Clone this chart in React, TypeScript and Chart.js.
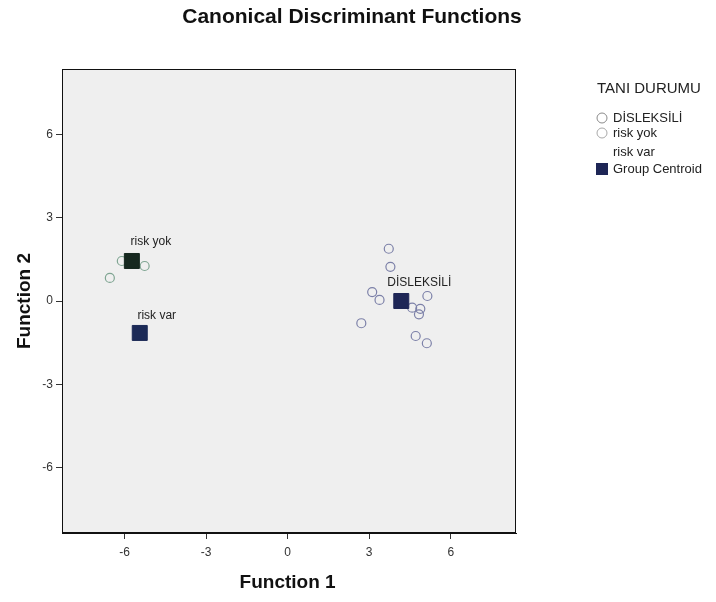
import React, { useEffect, useRef } from "react";
import { Chart, registerables } from "chart.js";

Chart.register(...registerables);

const FONT = "'Liberation Sans', Arial, sans-serif";

const title = "Canonical Discriminant Functions";
const xTitle = "Function 1";
const yTitle = "Function 2";
const legendTitle = "TANI DURUMU";
const groupNames = ["DİSLEKSİLİ", "risk yok", "risk var"];
const centroidLabel = "Group Centroid";
const tickValues = [-6, -3, 0, 3, 6];

// Group 1: DİSLEKSİLİ cases
const disleksiliX = [3.72, 3.78, 3.11, 3.38, 2.71, 5.14, 4.58, 4.88, 4.83, 4.71, 5.12];
const disleksiliY = [1.88, 1.23, 0.32, 0.04, -0.8, 0.18, -0.24, -0.28, -0.48, -1.26, -1.52];
// Group 2: risk yok cases
const riskYokX = [-6.54, -6.1, -5.26];
const riskYokY = [0.83, 1.44, 1.26];
// Group centroids (DİSLEKSİLİ, risk yok, risk var)
const centroidX = [4.18, -5.73, -5.44];
const centroidY = [0.0, 1.44, -1.15];

const toPts = (xs: number[], ys: number[]) => xs.map((x, i) => ({ x, y: ys[i] }));

const decorPlugin = {
  id: "decor",
  beforeDatasetsDraw(chart: any) {
    const { ctx, chartArea: a } = chart;
    ctx.save();
    ctx.fillStyle = "#efefef";
    ctx.fillRect(a.left, a.top, a.right - a.left, a.bottom - a.top);
    ctx.restore();
  },
  afterDraw(chart: any) {
    const { ctx, chartArea: a, scales } = chart;
    ctx.save();
    ctx.strokeStyle = "#111";
    ctx.lineWidth = 1;
    ctx.strokeRect(Math.round(a.left) + 0.5, Math.round(a.top) + 0.5, Math.round(a.right - a.left) - 1, Math.round(a.bottom - a.top) - 1);

    // Title
    ctx.fillStyle = "#111";
    ctx.textAlign = "center";
    ctx.textBaseline = "middle";
    ctx.font = `bold 21px ${FONT}`;
    ctx.fillText(title, 352, 17);

    // Axis titles
    ctx.font = `bold 19px ${FONT}`;
    ctx.fillText(xTitle, scales.x.getPixelForValue(0), 583);
    ctx.save();
    ctx.translate(25, scales.y.getPixelForValue(0));
    ctx.rotate(-Math.PI / 2);
    ctx.fillText(yTitle, 0, 0);
    ctx.restore();

    // Centroid labels
    ctx.font = `12px ${FONT}`;
    ctx.fillStyle = "#222";
    const offs = [-18, -19, -17];
    const dx = [18, 19, 17];
    for (let i = 0; i < groupNames.length; i++) {
      const px = scales.x.getPixelForValue(centroidX[i]) + dx[i];
      const py = scales.y.getPixelForValue(centroidY[i]) + offs[i];
      ctx.fillText(groupNames[i], px, py);
    }

    // Legend
    ctx.textAlign = "left";
    ctx.fillStyle = "#222";
    ctx.font = `15px ${FONT}`;
    ctx.fillText(legendTitle, 597, 89);
    ctx.font = `13px ${FONT}`;
    const ys = [118, 133, 152, 169];
    ctx.fillText(groupNames[0], 613, ys[0]);
    ctx.fillText(groupNames[1], 613, ys[1]);
    ctx.fillText(groupNames[2], 613, ys[2]);
    ctx.fillText(centroidLabel, 613, ys[3]);
    ctx.lineWidth = 1;
    ctx.strokeStyle = "#8a8a8a";
    ctx.beginPath();
    ctx.arc(602, ys[0], 5, 0, Math.PI * 2);
    ctx.stroke();
    ctx.strokeStyle = "#a8a8a8";
    ctx.beginPath();
    ctx.arc(602, ys[1], 5, 0, Math.PI * 2);
    ctx.stroke();
    ctx.fillStyle = "#1e2656";
    ctx.fillRect(596, ys[3] - 6, 12, 12);
    ctx.restore();
  },
};

export default function App() {
  const ref = useRef<HTMLCanvasElement | null>(null);
  useEffect(() => {
    if (!ref.current) return;
    const axisCommon = {
      type: "linear" as const,
      min: -8.35,
      max: 8.35,
      grid: {
        drawOnChartArea: false,
        drawTicks: true,
        tickLength: 6,
        tickColor: "#333",
      },
      border: { display: true, color: "#111", width: 1 },
      ticks: {
        font: { family: FONT, size: 12 },
        color: "#333",
        padding: 3,
      },
      afterBuildTicks: (scale: any) => {
        scale.ticks = tickValues.map((v) => ({ value: v }));
      },
    };
    const chart = new Chart(ref.current, {
      type: "scatter",
      data: {
        datasets: [
          {
            label: "Group Centroid",
            data: toPts(centroidX, centroidY),
            pointStyle: "rect",
            pointRadius: 10.6,
            backgroundColor: ["#1e2656", "#16281f", "#1c2a57"],
            borderColor: ["#1e2656", "#16281f", "#1c2a57"],
            borderWidth: 1,
            order: 0,
          },
          {
            label: groupNames[0],
            data: toPts(disleksiliX, disleksiliY),
            pointStyle: "circle",
            pointRadius: 4.5,
            backgroundColor: "rgba(0,0,0,0)",
            borderColor: "#7c80a8",
            borderWidth: 1.2,
            order: 1,
          },
          {
            label: groupNames[1],
            data: toPts(riskYokX, riskYokY),
            pointStyle: "circle",
            pointRadius: 4.5,
            backgroundColor: "rgba(0,0,0,0)",
            borderColor: "#7fa592",
            borderWidth: 1.2,
            order: 2,
          },
        ],
      },
      options: {
        animation: false,
        responsive: false,
        maintainAspectRatio: false,
        layout: { padding: { top: 69, right: 200, left: 0, bottom: 0 } },
        plugins: {
          legend: { display: false },
          tooltip: { enabled: false },
          title: { display: false },
        },
        scales: {
          x: {
            ...axisCommon,
            position: "bottom",
            max: 8.4,
            min: -8.3,
            ticks: { ...axisCommon.ticks, padding: 6 },
            afterFit: (scale: any) => {
              scale.height = 69;
            },
          },
          y: {
            ...axisCommon,
            position: "left",
            afterFit: (scale: any) => {
              scale.width = 62;
            },
          },
        },
      },
      plugins: [decorPlugin],
    });
    return () => chart.destroy();
  }, []);
  return (
    <div style={{ position: "absolute", left: 0, top: 0, width: 716, height: 602, background: "#fff" }}>
      <canvas ref={ref} width={716} height={602} style={{ width: 716, height: 602 }} />
    </div>
  );
}
